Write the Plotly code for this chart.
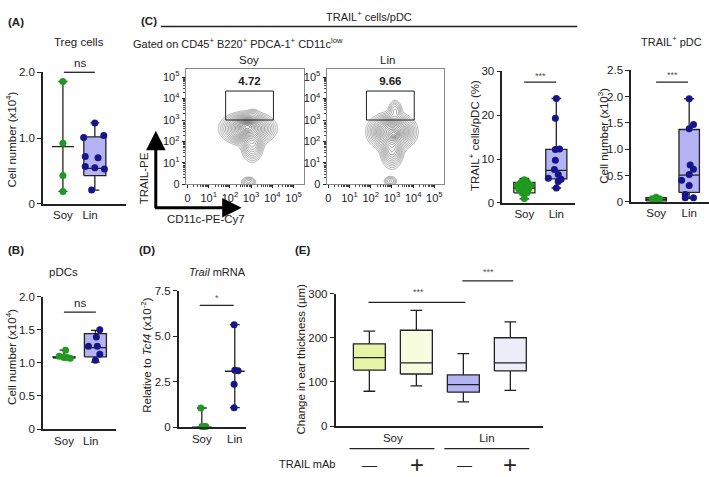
import numpy as np
import plotly.graph_objects as go

W, H = 709, 477
FONT = "Liberation Sans, Arial, sans-serif"
INK = "#222222"
GREEN = "#1f9a1f"
NAVY = "#16168a"
LIN_FILL = "#b4b4f4"
SOY_FILL = "#e6f4a8"

# ---------------- data ----------------
# box stats are [min, q1, median, q3, max]; dx = horizontal scatter of the dots (group units)

# (A) Treg cells, cell number (x10^4)
treg_soy = [1.86, 0.92, 0.43, 0.19]
treg_soy_dx = [0, 0, 0, 0]
treg_soy_box = [0.19, 0.87, 0.87, 0.87, 1.86]
treg_lin = [1.23, 1.04, 1.01, 0.72, 0.70, 0.57, 0.55, 0.53, 0.21]
treg_lin_dx = [0.0, 0.28, -0.35, -0.3, 0.1, -0.3, 0.0, 0.3, -0.1]
treg_lin_box = [0.21, 0.43, 0.54, 1.02, 1.23]

# (B) pDCs, cell number (x10^4)
pdc_soy = [1.19, 1.10, 1.08, 1.08, 1.07]
pdc_soy_dx = [0.05, -0.15, 0.0, 0.1, 0.2]
pdc_soy_box = [1.07, 1.075, 1.08, 1.09, 1.19]
pdc_lin = [1.50, 1.39, 1.25, 1.25, 1.13, 1.04]
pdc_lin_dx = [0.14, 0.03, -0.22, 0.06, 0.14, 0.0]
pdc_lin_box = [1.01, 1.09, 1.23, 1.44, 1.49]

# (C) TRAIL+ cells/pDC (%)
pct_soy = [5.3, 4.7, 4.7, 4.0, 4.0, 3.6, 3.1, 3.1, 2.3, 2.3, 1.0]
pct_soy_dx = [0.0, -0.1, 0.1, -0.22, 0.2, 0.0, -0.17, 0.13, -0.07, 0.08, 0.0]
pct_soy_box = [0.9, 2.3, 3.4, 4.7, 5.6]
pct_lin = [23.8, 19.3, 12.2, 12.3, 9.7, 7.6, 6.5, 5.6, 5.4, 4.9, 3.4]
pct_lin_dx = [0.0, -0.03, -0.03, 0.1, -0.03, -0.06, 0.06, -0.25, 0.15, 0.06, 0.0]
pct_lin_box = [3.4, 5.5, 7.4, 12.2, 23.8]

# (C) TRAIL+ pDC, cell number (x10^3)
num_soy = [0.09, 0.06, 0.06, 0.03, 0.03]
num_soy_dx = [0.0, -0.12, 0.1, -0.06, 0.05]
num_soy_box = [0.02, 0.02, 0.05, 0.08, 0.1]
num_lin = [1.96, 1.47, 1.39, 0.70, 0.62, 0.52, 0.41, 0.31, 0.14, 0.08, 0.08]
num_lin_dx = [0.0, 0.13, 0.0, 0.03, 0.13, 0.0, -0.23, 0.0, -0.12, 0.13, -0.12]
num_lin_box = [0.07, 0.18, 0.51, 1.376, 1.96]

# (D) Trail mRNA relative to Tcf4 (x10^-2)
mrna_soy = [1.05, 0.03, 0.03, 0.03]
mrna_soy_dx = [-0.03, 0.0, 0.12, 0.06]
mrna_soy_box = [0.0, 0.0, 0.0, 0.0, 1.05]
mrna_lin = [5.63, 3.12, 3.10, 2.36, 1.07]
mrna_lin_dx = [-0.02, 0.0, 0.1, -0.02, -0.02]
mrna_lin_box = [1.07, 3.07, 3.07, 3.07, 5.63]

# (E) change in ear thickness (um): Soy/Lin x TRAIL mAb -/+
ear_groups = ["Soy -", "Soy +", "Lin -", "Lin +"]
ear_box = [
    [79, 127, 155, 186, 215],
    [91, 118, 143, 217, 262],
    [55, 77, 94, 116, 164],
    [81, 125, 143, 200, 236],
]
ear_fill = ["#e6f4a8", "#f7fbe0", "#b4b4f4", "#ececfb"]

# flow plots: populations as gaussian blobs (log-decade units)
# [x centre, y centre, x sd, y sd, weight]
soy_blobs = [
    [2.85, 2.6, 0.5, 0.3, 1.0],
    [2.8, 2.7, 0.22, 0.14, 0.6],
    [3.05, 1.9, 0.24, 0.38, 0.3],
    [3.1, 3.3, 0.15, 0.12, 0.05],
    [2.88, 0.12, 0.18, 0.12, 0.12],
]
lin_blobs = [
    [3.0, 2.45, 0.44, 0.34, 1.0],
    [3.1, 2.35, 0.14, 0.11, 0.4],
    [3.0, 1.6, 0.24, 0.38, 0.3],
    [3.15, 3.45, 0.16, 0.24, 0.12],
    [2.93, 0.15, 0.16, 0.12, 0.1],
]
gate_x = [1.8, 4.05]
gate_y = [3.0, 4.35]
gate_pct = ["4.72", "9.66"]
decade_labels = ["0", "10<sup>1</sup>", "10<sup>2</sup>", "10<sup>3</sup>", "10<sup>4</sup>", "10<sup>5</sup>"]


def px(x):
    return x / W


def py(y):
    return 1 - y / H


fig = go.Figure()


def box_group(xc, stats, width, cap, fill, xa, ya):
    lo, q1, med, q3, hi = stats
    hw, cw = width / 2, cap / 2
    line = dict(color=INK, width=1.3)
    fig.add_trace(go.Scatter(
        x=[xc, xc, None, xc, xc, None, xc - cw, xc + cw, None, xc - cw, xc + cw],
        y=[lo, q1, None, q3, hi, None, lo, lo, None, hi, hi],
        mode="lines", line=line, xaxis=xa, yaxis=ya, hoverinfo="skip"))
    if q3 > q1:
        fig.add_trace(go.Scatter(
            x=[xc - hw, xc + hw, xc + hw, xc - hw, xc - hw], y=[q1, q1, q3, q3, q1],
            mode="lines", fill="toself", fillcolor=fill, line=line,
            xaxis=xa, yaxis=ya, hoverinfo="skip"))
    fig.add_trace(go.Scatter(x=[xc - hw, xc + hw], y=[med, med], mode="lines",
                             line=line, xaxis=xa, yaxis=ya, hoverinfo="skip"))


def dots(xc, vals, dx, color, xa, ya):
    fig.add_trace(go.Scatter(x=[xc + d for d in dx], y=vals, mode="markers",
                             marker=dict(size=7, color=color), xaxis=xa, yaxis=ya,
                             cliponaxis=False))


def two_group(soy, soy_dx, soy_box, lin, lin_dx, lin_box, width, cap, xa, ya):
    box_group(0, soy_box, width, cap, SOY_FILL, xa, ya)
    box_group(1, lin_box, width, cap, LIN_FILL, xa, ya)
    dots(0, soy, soy_dx, GREEN, xa, ya)
    dots(1, lin, lin_dx, NAVY, xa, ya)


two_group(treg_soy, treg_soy_dx, treg_soy_box, treg_lin, treg_lin_dx, treg_lin_box, 0.69, 0.28, "x", "y")
two_group(pdc_soy, pdc_soy_dx, pdc_soy_box, pdc_lin, pdc_lin_dx, pdc_lin_box, 0.7, 0.28, "x2", "y2")
two_group(pct_soy, pct_soy_dx, pct_soy_box, pct_lin, pct_lin_dx, pct_lin_box, 0.66, 0.3, "x5", "y5")
two_group(num_soy, num_soy_dx, num_soy_box, num_lin, num_lin_dx, num_lin_box, 0.62, 0.3, "x6", "y6")
two_group(mrna_soy, mrna_soy_dx, mrna_soy_box, mrna_lin, mrna_lin_dx, mrna_lin_box, 0.6, 0.3, "x7", "y7")

for i, st in enumerate(ear_box):
    box_group(i, st, 0.68, 0.25, ear_fill[i], "x8", "y8")

# flow contour plots
gu = np.linspace(-0.08, 5.47, 200)
gv = np.linspace(0, 5.36, 200)
U, V = np.meshgrid(gu, gv)
for blobs, xa, ya, k in [(soy_blobs, "x3", "y3", 0), (lin_blobs, "x4", "y4", 1)]:
    dens = np.zeros_like(U)
    for cu, cv, su, sv, w in blobs:
        dens += w * np.exp(-0.5 * (((U - cu) / su) ** 2 + ((V - cv) / sv) ** 2))
    z = (dens / dens.max()) ** 0.35
    fig.add_trace(go.Contour(
        x=gu, y=gv, z=z, xaxis=xa, yaxis=ya, showscale=False,
        contours=dict(coloring="lines", start=0.22, end=0.98, size=0.042),
        colorscale=[[0, "#808080"], [1, "#3c3c3c"]], line=dict(width=0.6), hoverinfo="skip"))
    fig.add_trace(go.Scatter(
        x=[gate_x[0], gate_x[1], gate_x[1], gate_x[0], gate_x[0]],
        y=[gate_y[0], gate_y[0], gate_y[1], gate_y[1], gate_y[0]],
        mode="lines", line=dict(color=INK, width=1), xaxis=xa, yaxis=ya, hoverinfo="skip"))
    fig.add_trace(go.Scatter(
        x=[(gate_x[0] + gate_x[1]) / 2], y=[gate_y[1] + 0.42], mode="text",
        text=["<b>" + gate_pct[k] + "</b>"], textfont=dict(size=11.5, color=INK),
        xaxis=xa, yaxis=ya, hoverinfo="skip"))

# ---------------- axes ----------------
def dom_x(a, b):
    return [a / W, b / W]


def dom_y(top, bottom):
    return [1 - bottom / H, 1 - top / H]


base = dict(showline=True, linecolor=INK, linewidth=1.5, showgrid=False, zeroline=False,
            tickfont=dict(size=11.5, color=INK, family=FONT), fixedrange=True)
yb = dict(base, ticks="outside", ticklen=4, tickwidth=1.3, tickcolor=INK)
xb = dict(base, ticks="", tickvals=[0, 1], ticktext=["Soy", "Lin"])

layout_axes = {
    "xaxis": dict(xb, domain=dom_x(42, 125), range=[-0.625, 1.97], anchor="y", tickvals=[0, 0.85]),
    "yaxis": dict(yb, domain=dom_y(68, 203), range=[0, 2.0], anchor="x",
                  tickvals=[0, 1, 2], ticktext=["0", "1.0", "2.0"]),
    "xaxis2": dict(xb, domain=dom_x(42, 115), range=[-0.67, 1.65], anchor="y2", tickvals=[0, 0.85]),
    "yaxis2": dict(yb, domain=dom_y(298, 434), range=[0, 2.0], anchor="x2",
                   tickvals=[0, 0.5, 1, 1.5, 2], ticktext=["0", "0.5", "1.0", "1.5", "2.0"]),
    "xaxis5": dict(xb, domain=dom_x(502, 575), range=[-0.69, 1.59], anchor="y5"),
    "yaxis5": dict(yb, domain=dom_y(67, 202), range=[0, 30], anchor="x5",
                   tickvals=[0, 10, 20, 30]),
    "xaxis6": dict(xb, domain=dom_x(631, 709), range=[-0.76, 1.6], anchor="y6"),
    "yaxis6": dict(yb, domain=dom_y(66, 201), range=[0, 2.5], anchor="x6",
                   tickvals=[0, 0.5, 1, 1.5, 2, 2.5], ticktext=["0", "0.5", "1.0", "1.5", "2.0", "2.5"]),
    "xaxis7": dict(xb, domain=dom_x(178, 245), range=[-0.7, 1.33], anchor="y7"),
    "yaxis7": dict(yb, domain=dom_y(292, 432), range=[0, 7.5], anchor="x7",
                   tickvals=[0, 2.5, 5, 7.5], ticktext=["0", "2.5", "5.0", "7.5"]),
    "xaxis8": dict(xb, domain=dom_x(335, 543), range=[-0.72, 3.7], anchor="y8",
                   tickvals=[0.5, 2.5], ticktext=["Soy", "Lin"]),
    "yaxis8": dict(yb, domain=dom_y(295, 431), range=[0, 300], anchor="x8",
                   tickvals=[0, 100, 200, 300]),
}

minor_vals = [d + np.log10(m) for d in range(5) for m in range(2, 10)]
flow = dict(showline=True, linecolor="#888", linewidth=1, mirror=True, showgrid=False,
            zeroline=False, ticks="outside", ticklen=3, tickwidth=1, tickcolor=INK,
            tickvals=list(range(6)), ticktext=decade_labels,
            tickfont=dict(size=11, color=INK, family=FONT), fixedrange=True,
            minor=dict(tickmode="array", tickvals=minor_vals, ticks="outside", ticklen=1.5,
                       tickcolor="#444", tickwidth=0.8))
layout_axes["xaxis3"] = dict(flow, domain=dom_x(185, 303), range=[-0.08, 5.47], anchor="y3")
layout_axes["yaxis3"] = dict(flow, domain=dom_y(65, 183), range=[0, 5.36], anchor="x3")
layout_axes["xaxis4"] = dict(flow, domain=dom_x(326, 444), range=[-0.08, 5.47], anchor="y4")
layout_axes["yaxis4"] = dict(flow, domain=dom_y(65, 183), range=[0, 5.36], anchor="x4")

# ---------------- text & decorations ----------------
ann = []


def text(x, y, s, size=11.5, angle=0, color=INK):
    ann.append(dict(x=px(x), y=py(y), xref="paper", yref="paper", text=s, showarrow=False,
                    textangle=angle, font=dict(size=size, color=color, family=FONT),
                    xanchor="center", yanchor="middle"))


shapes = []


def hline(x0, x1, y, w=1.3):
    shapes.append(dict(type="line", xref="paper", yref="paper", x0=px(x0), x1=px(x1),
                       y0=py(y), y1=py(y), line=dict(color=INK, width=w)))


text(15, 16, "<b>(A)</b>", 11.5)
text(15, 250, "<b>(B)</b>", 11.5)
text(148, 15, "<b>(C)</b>", 11.5)
text(146, 250, "<b>(D)</b>", 11.5)
text(302, 250, "<b>(E)</b>", 11.5)

text(78, 37, "Treg cells")
text(63, 273, "pDCs")
text(369, 10, "TRAIL<sup>+</sup> cells/pDC", 11)
hline(160, 577, 21, 1.5)
text(237, 38, "Gated on CD45<sup>+</sup> B220<sup>+</sup> PDCA-1<sup>+</sup> CD11c<sup>low</sup>", 11)
text(248, 55, "Soy")
text(387, 55, "Lin")
text(671, 36, "TRAIL<sup>+</sup> pDC", 11)
text(217, 273, "<i>Trail</i> mRNA", 11)

text(10, 137, "Cell number (x10<sup>4</sup>)", 11.5, -90)
text(10, 360, "Cell number (x10<sup>4</sup>)", 11.5, -90)
text(473, 133, "TRAIL<sup>+</sup> cells/pDC (%)", 11.5, -90)
text(603, 133, "Cell number (x10<sup>3</sup>)", 11.5, -90)
text(145, 358, "Relative to <i>Tcf4</i> (x10<sup>-2</sup>)", 11.5, -90)
text(300, 362, "Change in ear thickness (µm)", 11.5, -90)
text(143, 177, "TRAIL-PE", 11.5, -90)
text(205, 218, "CD11c-PE-Cy7", 11.5)

# significance
hline(63, 94, 68); text(79, 58, "ns")
hline(63, 95, 314); text(79, 305, "ns")
hline(524, 556, 78); text(540, 72, "***", 9, color="#555")
hline(656, 688, 78); text(672, 71, "***", 9, color="#555")
hline(199, 233, 307); text(216, 300, "*", 9, color="#555")
hline(368, 465, 304); text(418, 293, "***", 9, color="#555")
hline(462, 513, 282); text(488, 273, "***", 9, color="#555")

# (E) treatment row
hline(349, 434, 454)
hline(444, 529, 454)
text(306, 470, "TRAIL mAb", 11)
for xpos, sign in zip([369, 417, 464, 510], ["\u2014", "+", "\u2014", "+"]):
    text(xpos, 470, sign, 15 if sign != "+" else 24)

# axis arrows for flow plots
ann.append(dict(x=px(155), y=py(128), xref="paper", yref="paper", ax=0, ay=79,
                showarrow=True, arrowhead=2, arrowsize=1.3, arrowwidth=3, arrowcolor="black", text=""))
ann.append(dict(x=px(241), y=py(207), xref="paper", yref="paper", ax=-88, ay=0,
                showarrow=True, arrowhead=2, arrowsize=1.3, arrowwidth=3, arrowcolor="black", text=""))

fig.update_layout(
    width=W, height=H, margin=dict(l=0, r=0, t=0, b=0),
    paper_bgcolor="white", plot_bgcolor="rgba(0,0,0,0)",
    showlegend=False, font=dict(family=FONT, color=INK),
    annotations=ann, shapes=shapes, **layout_axes)

fig.write_html("out.html", config={"displayModeBar": False},
               post_script="document.body.style.margin='0';")
